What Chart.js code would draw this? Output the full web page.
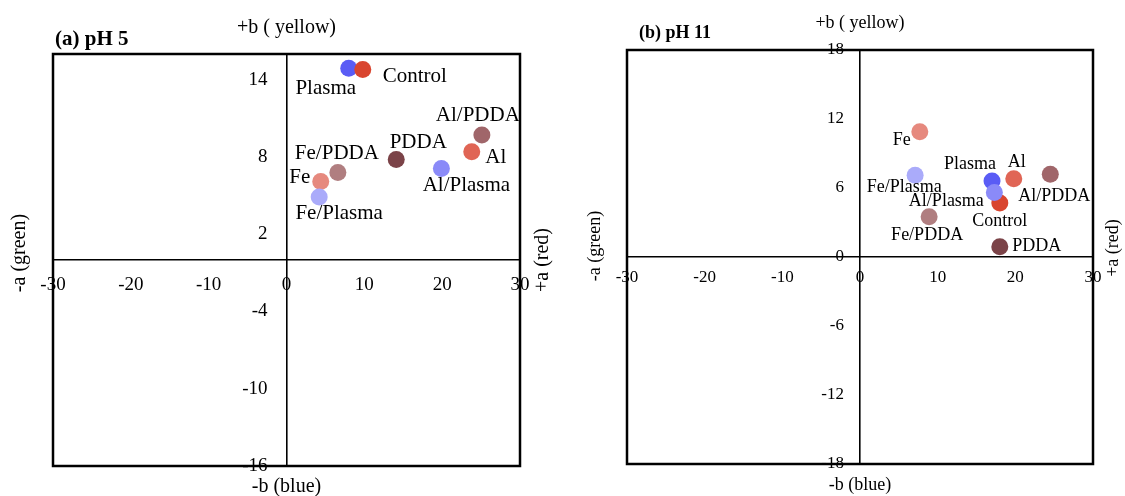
<!DOCTYPE html>
<html lang="en">
<head>
    <meta charset="UTF-8">
    <title>CIELab a*b* plots</title>
    <script src="https://cdn.jsdelivr.net/npm/chart.js"></script>
    <style>
        body { margin: 0; background: #fff; }
        .panel { position: absolute; top: 0; height: 496px; }
    </style>
</head>
<body>
    <div class="panel" style="left:0;width:562px"><canvas id="chartPH5"></canvas></div>
    <div class="panel" style="left:562px;width:563px"><canvas id="chartPH11"></canvas></div>

    <script>
        // samples, in drawing order (later ones sit on top)
        const samples = ['Plasma', 'Control', 'PDDA', 'Al', 'Fe', 'Fe/Plasma', 'Fe/PDDA', 'Al/PDDA', 'Al/Plasma'];
        const colors = ['#5a5cf5', '#d9452f', '#7b4348', '#e06555', '#e6897e', '#aaabfa', '#b07e80', '#a0666a', '#8a8af8'];

        // a* (red-green) and b* (yellow-blue)
        const aPH5 = [8.0, 9.8, 14.1, 23.8, 4.4, 4.2, 6.6, 25.1, 19.9];
        const bPH5 = [14.9, 14.8, 7.8, 8.4, 6.1, 4.9, 6.8, 9.7, 7.1];
        const aPH11 = [17.0, 18.0, 18.0, 19.8, 7.7, 7.1, 8.9, 24.5, 17.3];
        const bPH11 = [6.6, 4.7, 0.9, 6.8, 10.9, 7.1, 3.5, 7.2, 5.6];

        const xTicks = [-30, -20, -10, 0, 10, 20, 30];
        const yTicksPH5 = [-16, -10, -4, 2, 8, 14];
        const yTicksPH11 = [-18, -12, -6, 0, 6, 12, 18];

        const serif = '"Liberation Serif", "Times New Roman", serif';

        // where each sample name sits relative to its dot (px)
        const labelOffsetsPH5 = [[-23, 20], [52, 7], [22, -17], [24, 6], [-21, -4], [20, 17], [-1, -19], [-4, -20], [25, 17]];
        const labelOffsetsPH11 = [[-22, -17], [0, 18], [37, 0], [3, -17], [-18, 9], [-11, 12], [-2, 19], [4, 22], [-48, 9]];

        const decorPlugin = {
            id: 'decor',
            afterDatasetsDraw(chart, args, opts) {
                const ctx = chart.ctx;
                const area = chart.chartArea;
                const xs = chart.scales.x;
                const ys = chart.scales.y;
                const x0 = xs.getPixelForValue(0);
                const meta = chart.getDatasetMeta(0);
                ctx.save();
                ctx.fillStyle = '#000';
                ctx.textAlign = 'center';
                ctx.textBaseline = 'middle';
                ctx.font = opts.labelSize + 'px ' + serif;
                meta.data.forEach((pt, i) => {
                    const off = opts.offsets[i];
                    ctx.fillText(samples[i], pt.x + off[0], pt.y + off[1]);
                });

                // b* tick labels, left of the a* = 0 line
                ctx.textAlign = 'right';
                ctx.font = opts.tickSize + 'px ' + serif;
                ys.ticks.forEach(t => {
                    ctx.fillText(String(t.value), x0 - opts.yPad, ys.getPixelForValue(t.value));
                });

                // outer frame
                ctx.strokeStyle = '#000';
                ctx.lineWidth = 2.5;
                ctx.strokeRect(area.left, area.top, area.right - area.left, area.bottom - area.top);

                // panel title
                ctx.textAlign = 'left';
                ctx.font = 'bold ' + opts.titleSize + 'px ' + serif;
                ctx.fillText(opts.title, opts.titlePos[0], opts.titlePos[1]);

                // axis names
                ctx.textAlign = 'center';
                ctx.font = opts.axisSize + 'px ' + serif;
                ctx.fillText('+b ( yellow)', x0, opts.topY);
                ctx.fillText('-b (blue)', x0, opts.bottomY);
                ctx.save();
                ctx.translate(opts.leftName[0], opts.leftName[1]);
                ctx.rotate(-Math.PI / 2);
                ctx.fillText('-a (green)', 0, 0);
                ctx.restore();
                ctx.save();
                ctx.translate(opts.rightName[0], opts.rightName[1]);
                ctx.rotate(-Math.PI / 2);
                ctx.fillText('+a (red)', 0, 0);
                ctx.restore();
                ctx.restore();
            }
        };

        function makeChart(id, aVals, bVals, yTicks, yMin, yMax, cfg) {
            const points = aVals.map((a, i) => ({ x: a, y: bVals[i] }));
            return new Chart(document.getElementById(id), {
                type: 'scatter',
                data: {
                    datasets: [{
                        data: points,
                        backgroundColor: colors,
                        borderWidth: 0,
                        pointRadius: 8.5,
                        pointHoverRadius: 8.5
                    }]
                },
                options: {
                    responsive: true,
                    maintainAspectRatio: false,
                    animation: false,
                    events: [],
                    layout: { padding: cfg.padding },
                    plugins: {
                        legend: { display: false },
                        tooltip: { enabled: false },
                        decor: cfg.decor
                    },
                    scales: {
                        x: {
                            type: 'linear',
                            position: { y: 0 },
                            min: -30,
                            max: 30,
                            afterBuildTicks: s => { s.ticks = xTicks.map(v => ({ value: v })); },
                            afterFit: s => { s.height = 0; },
                            grid: { display: false, drawTicks: false },
                            border: { display: true, color: '#000', width: 1.6 },
                            ticks: {
                                color: '#000',
                                autoSkip: false,
                                maxRotation: 0,
                                padding: cfg.xPad,
                                font: { family: serif, size: cfg.decor.tickSize }
                            }
                        },
                        y: {
                            type: 'linear',
                            position: { x: 0 },
                            min: yMin,
                            max: yMax,
                            afterBuildTicks: s => { s.ticks = yTicks.map(v => ({ value: v })); },
                            afterFit: s => { s.width = 0; },
                            grid: { display: false, drawTicks: false },
                            border: { display: true, color: '#000', width: 1.6 },
                            ticks: { display: false }
                        }
                    }
                },
                plugins: [decorPlugin]
            });
        }

        makeChart('chartPH5', aPH5, bPH5, yTicksPH5, -16, 16, {
            padding: { left: 53, top: 54, right: 42, bottom: 30 },
            xPad: 14,
            decor: {
                offsets: labelOffsetsPH5,
                labelSize: 21,
                tickSize: 19,
                yPad: 19,
                title: '(a) pH 5',
                titleSize: 21,
                titlePos: [55, 40],
                axisSize: 20,
                topY: 28,
                bottomY: 487,
                leftName: [20, 253],
                rightName: [543, 260]
            }
        });

        makeChart('chartPH11', aPH11, bPH11, yTicksPH11, -18, 18, {
            padding: { left: 65, top: 50, right: 32, bottom: 32 },
            xPad: 10,
            decor: {
                offsets: labelOffsetsPH11,
                labelSize: 18,
                tickSize: 17,
                yPad: 16,
                title: '(b) pH 11',
                titleSize: 18,
                titlePos: [77, 33],
                axisSize: 18,
                topY: 23,
                bottomY: 485,
                leftName: [33, 246],
                rightName: [551, 248]
            }
        });
    </script>
</body>
</html>
